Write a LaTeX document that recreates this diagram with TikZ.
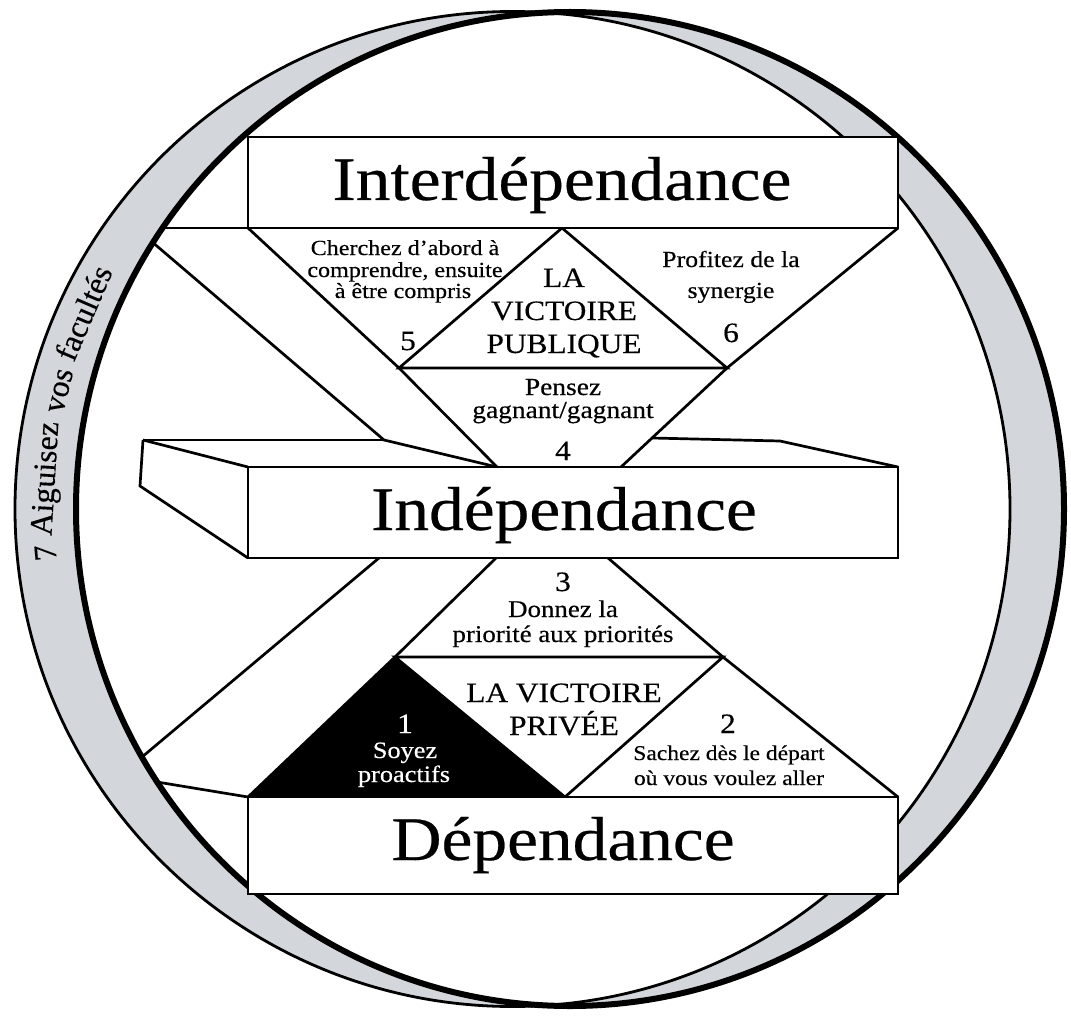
\documentclass[tikz,border=0pt]{standalone}
\usepackage{fontspec}
\setmainfont{Liberation Serif}[FakeStretch=1.12, FakeBold=0.4]
\newfontfamily\arcfam{Liberation Serif}[FakeBold=0.3]
\definecolor{crescent}{RGB}{211,215,220}
\begin{document}
\begin{tikzpicture}[x=1pt,y=-1pt,
  ln/.style={line width=2.7pt, line join=miter},
  box/.style={draw, line width=2.9pt, fill=white},
  big/.style={font=\fontsize{62}{62}\selectfont, anchor=base, inner sep=0pt},
  smA/.style={font=\fontsize{21.5}{21.5}\selectfont, anchor=base, inner sep=0pt},
  smB/.style={font=\fontsize{23}{23}\selectfont, anchor=base, inner sep=0pt},
  smC/.style={font=\fontsize{24.5}{24.5}\selectfont, anchor=base, inner sep=0pt},
  smD/.style={font=\fontsize{24}{24}\selectfont, anchor=base, inner sep=0pt},
  smE/.style={font=\fontsize{23.5}{23.5}\selectfont, anchor=base, inner sep=0pt},
  smF/.style={font=\fontsize{21}{21}\selectfont, anchor=base, inner sep=0pt},
  capt/.style={font=\fontsize{28}{28}\selectfont, anchor=base, inner sep=0pt},
  num/.style={font=\fontsize{28}{28}\selectfont, anchor=base, inner sep=0pt},
  arcw/.style={font=\arcfam\fontsize{32}{32}\selectfont, anchor=base, inner sep=0pt}]
\useasboundingbox (0,0) rectangle (1071,1019);
% ---- coordinates
\coordinate (TTL) at (248,137);
\coordinate (TBL) at (248,228);
\coordinate (TBR) at (898,228);
\coordinate (Pa) at (562,228);
\coordinate (Pl) at (399,368);
\coordinate (Pr) at (727,368);
\coordinate (Fl) at (497,467);
\coordinate (Fr) at (621,467);
\coordinate (MTL) at (248,467);
\coordinate (MTR) at (898,467);
\coordinate (MBL) at (248,558);
\coordinate (MBR) at (898,558);
\coordinate (Ql) at (496,558);
\coordinate (Qr) at (608,558);
\coordinate (Rl) at (395,657);
\coordinate (Rr) at (723,657);
\coordinate (Rb) at (565,797);
\coordinate (DTL) at (248,797);
\coordinate (DTR) at (898,797);
\coordinate (DBR) at (898,894);
\coordinate (S1) at (143,440);
\coordinate (S2) at (384,440);
\coordinate (S3) at (140,486);
\coordinate (R1) at (652,438);
\coordinate (R2) at (780,441);
\coordinate (E1) at (151,241);
\coordinate (E2) at (162,228);
\coordinate (E3) at (379,558);
\coordinate (E4) at (142,757);
\coordinate (E5) at (157,782);
% ---- black triangle
\fill (Rl) -- (DTL) -- (Rb) -- cycle;
% ---- lines
\draw[ln] (TBL) -- (Pl) -- (Fl);
\draw[ln] (TBR) -- (Pr) -- (Fr);
\draw[ln] (Pl) -- (Pa) -- (Pr) -- cycle;
\draw[ln] (E1) -- (S2) -- (Fl);
\draw[ln] (S1) -- (S2);
\draw[ln] (S1) -- (MTL);
\draw[ln] (S1) -- (S3) -- (MBL);
\draw[ln] (R1) -- (R2) -- (MTR);
\draw[ln] (E2) -- (TBL);
\draw[ln] (Ql) -- (Rl) -- (DTL);
\draw[ln] (Qr) -- (Rr) -- (DTR);
\draw[ln] (Rl) -- (Rr) -- (Rb) -- cycle;
\draw[ln] (E3) -- (E4);
\draw[ln] (E5) -- (DTL);
% ---- crescent
\fill[crescent, even odd rule] (570,509) ellipse[x radius=494, y radius=497] (512.5,509) circle[radius=497.5];
\draw[line width=6pt] (570,509) ellipse[x radius=494, y radius=497];
\draw[line width=2.8pt] (512.5,509) circle[radius=497.5];
% ---- boxes
\draw[box] (TTL) rectangle (TBR);
\draw[box] (MTL) rectangle (MBR);
\draw[box] (DTL) rectangle (DBR);
% ---- texts
\node[big] (t1) at (562,200) {Interdépendance};
\node[big] (t2) at (564,530) {Indépendance};
\node[big] (t3) at (563,860) {Dépendance};
\node[smA] (a1) at (405,255) {Cherchez d’abord à};
\node[smA] (a2) at (405,277) {comprendre, ensuite};
\node[smA] (a3) at (403,298) {à être compris};
\node[num] (n5) at (408,350) {5};
\node[capt] (p1) at (564,287) {LA};
\node[capt] (p2) at (564,320) {VICTOIRE};
\node[capt] (p3) at (564,353) {PUBLIQUE};
\node[smB] (b1) at (731,267) {Profitez de la};
\node[smB] (b2) at (731,298) {synergie};
\node[num] (n6) at (731,342) {6};
\node[smC] (c1) at (563,395) {Pensez};
\node[smC] (c2) at (563,418) {gagnant/gagnant};
\node[num] (n4) at (563,460) {4};
\node[num] (n3) at (563,591) {3};
\node[smD] (d1) at (563,617) {Donnez la};
\node[smD] (d2) at (563,642) {priorité aux priorités};
\node[capt] (v1) at (564,702) {LA VICTOIRE};
\node[capt] (v2) at (564,735) {PRIVÉE};
\node[num, text=white] (n1) at (405,733) {1};
\node[smE, text=white] (e1) at (405,758) {Soyez};
\node[smE, text=white] (e2) at (404,782) {proactifs};
\node[num] (n2) at (728,733) {2};
\node[smF] (f1) at (729,760) {Sachez dès le départ};
\node[smF] (f2) at (729,785) {où vous voulez aller};
% ---- arc text (words placed along the crescent)
\node[arcw, rotate=95.1] (w1) at (55.9,552.0) {7};
\node[arcw, rotate=86.5] (w2) at (54.9,479.3) {Aiguisez};
\node[arcw, rotate=76.2] (w3) at (68.1,392.8) {vos};
\node[arcw, rotate=66.8] (w4) at (93.4,317.2) {facultés};
\end{tikzpicture}
\end{document}
